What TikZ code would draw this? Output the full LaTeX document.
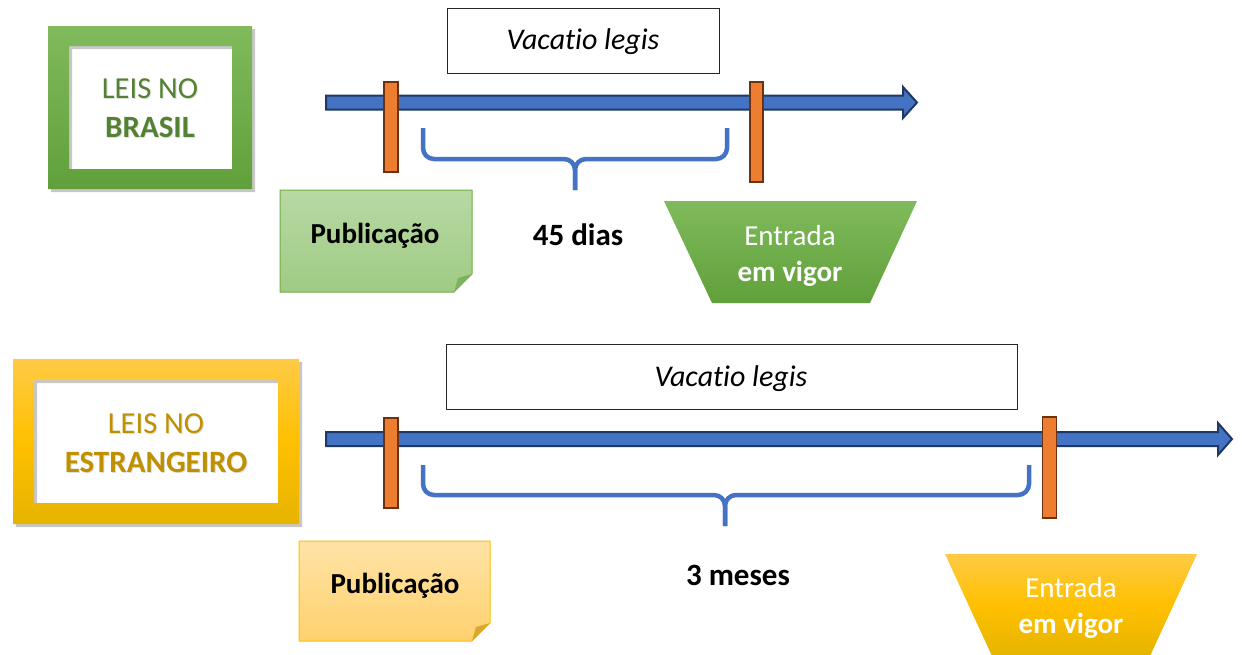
\documentclass[tikz,border=0pt]{standalone}
\usepackage{fontspec}
\setmainfont{Carlito}[Ligatures=NoCommon]
\definecolor{gTop}{HTML}{80BA5C}
\definecolor{gBot}{HTML}{60A03A}
\definecolor{gText}{HTML}{548235}
\definecolor{gNoteTop}{HTML}{B7D9A3}
\definecolor{gNoteBot}{HTML}{9FCB84}
\definecolor{gLine}{HTML}{70AD47}
\definecolor{gFold}{HTML}{7DB35C}
\definecolor{yTop}{HTML}{FFCA45}
\definecolor{yMid}{HTML}{FFC000}
\definecolor{yBot}{HTML}{E6B400}
\definecolor{yText}{HTML}{BF9000}
\definecolor{yNoteTop}{HTML}{FFE3A6}
\definecolor{yNoteBot}{HTML}{FFD16E}
\definecolor{yLine}{HTML}{FFC000}
\definecolor{yFold}{HTML}{D9A830}
\definecolor{axisBlue}{HTML}{4472C4}
\definecolor{axisLine}{HTML}{1F3864}
\definecolor{barOrange}{HTML}{ED7D31}
\definecolor{barLine}{HTML}{6B3210}
\begin{document}
\begin{tikzpicture}[x=1pt,y=-1pt,
  txt/.style={anchor=base,inner sep=0pt,font=\fontsize{30.5}{36}\selectfont},
  boldtxt/.style={anchor=base,inner sep=0pt,font=\fontsize{31}{36}\selectfont\bfseries},
  bodytxt/.style={anchor=base,inner sep=0pt,font=\fontsize{29}{35}\selectfont},
  vtxt/.style={anchor=base,inner sep=0pt,font=\fontsize{30}{35}\selectfont\itshape},
  tshadow/.style={text=black,opacity=0.13},
  axis/.style={fill=axisBlue,draw=axisLine,line width=2pt,line join=miter},
  bar/.style={fill=barOrange,draw=barLine,line width=1.8pt},
  brace/.style={draw=axisBlue,line width=4.5pt,rounded corners=11pt},
  vbox/.style={draw=black!85,line width=1pt,fill=white},
  shadowfill/.style={fill=black,opacity=0.22,even odd rule}
]
\useasboundingbox (0,0) rectangle (1242,654);

% ---------- top: LEIS NO BRASIL ----------
\fill[shadowfill] (51,29) rectangle (255,192) (72,49) rectangle (235,172);
\shade[top color=gTop,bottom color=gBot,even odd rule] (48,26) rectangle (252,189) (69,46) rectangle (232,169);
\node[txt,tshadow] (t1s) at (151,99.5) {LEIS NO};
\node[boldtxt,tshadow] (t2s) at (151,138.5) {BRASIL};
\node[txt,text=gText] (t1) at (150,98) {LEIS NO};
\node[boldtxt,text=gText] (t2) at (150,137) {BRASIL};

\node[vbox,minimum width=272pt,minimum height=65pt] (v1) at (583,40.5) {};
\node[vtxt] (v1t) at (583,49) {Vacatio legis};

\draw[axis] (326,95.5) -- (903,95.5) -- (903,87) -- (917,102.5) -- (903,118) -- (903,109.5) -- (326,109.5) -- cycle;
\coordinate (a1) at (326,102.5);
\node[bar,minimum width=14pt,minimum height=90pt,inner sep=0pt] (p1) at (391,127) {};
\node[bar,minimum width=13pt,minimum height=100pt,inner sep=0pt] (e1) at (756.5,132) {};

\coordinate (b1l) at (423,128);
\coordinate (b1m) at (575,159);
\coordinate (b1t) at (575,190);
\coordinate (b1r) at (727,128);
\draw[brace] (b1l) -- (b1l |- b1m) -- (b1m) -- (b1t);
\draw[brace] (b1t) -- (b1m) -- (b1r |- b1m) -- (b1r);

\node[boldtxt] (d1) at (578,245) {45 dias};

\shade[top color=gNoteTop,bottom color=gNoteBot] (280,190) -- (472,190) -- (472,274) -- (454,292) -- (280,292) -- cycle;
\draw[gLine,line width=1pt] (280,190) -- (472,190) -- (472,274) -- (454,292) -- (280,292) -- cycle;
\fill[gFold] (454,292) -- (458,278) -- (472,274) -- cycle;
\node[bodytxt,font=\fontsize{29}{35}\selectfont\bfseries] (n1) at (375,243) {Publicação};

\shade[top color=gTop,bottom color=gBot] (664,201) -- (917,201) -- (870,303) -- (712,303) -- cycle;
\node[bodytxt,text=white] (en1) at (790,245) {Entrada};
\node[bodytxt,text=white,font=\fontsize{29}{35}\selectfont\bfseries] (ev1) at (790,281) {em vigor};

% ---------- bottom: LEIS NO ESTRANGEIRO ----------
\fill[shadowfill] (16,362) rectangle (302,527) (37,383) rectangle (281,506);
\shade[top color=yTop,bottom color=yBot,middle color=yMid,even odd rule] (13,359) rectangle (299,524) (34,380) rectangle (278,503);
\node[txt,tshadow] (s1s) at (157,434.5) {LEIS NO};
\node[boldtxt,tshadow] (s2s) at (157,473.5) {ESTRANGEIRO};
\node[txt,text=yText] (s1) at (156,433) {LEIS NO};
\node[boldtxt,text=yText] (s2) at (156,472) {ESTRANGEIRO};

\node[vbox,minimum width=571pt,minimum height=65pt] (v2) at (731.5,377) {};
\node[vtxt] (v2t) at (731,386) {Vacatio legis};

\draw[axis] (326,432) -- (1218,432) -- (1218,423) -- (1232,439) -- (1218,455) -- (1218,446) -- (326,446) -- cycle;
\coordinate (a2) at (326,439);
\node[bar,minimum width=14pt,minimum height=90pt,inner sep=0pt] (p2) at (391,463) {};
\node[bar,minimum width=14pt,minimum height=101pt,inner sep=0pt] (e2) at (1049.5,467.5) {};

\coordinate (b2l) at (423,465);
\coordinate (b2m) at (725,495);
\coordinate (b2t) at (725,526);
\coordinate (b2r) at (1029,465);
\draw[brace] (b2l) -- (b2l |- b2m) -- (b2m) -- (b2t);
\draw[brace] (b2t) -- (b2m) -- (b2r |- b2m) -- (b2r);

\node[boldtxt] (d2) at (738,585) {3 meses};

\shade[top color=yNoteTop,bottom color=yNoteBot] (299,541) -- (490,541) -- (490,623) -- (472,641) -- (299,641) -- cycle;
\draw[yLine,line width=1pt] (299,541) -- (490,541) -- (490,623) -- (472,641) -- (299,641) -- cycle;
\fill[yFold] (472,641) -- (476,627) -- (490,623) -- cycle;
\node[bodytxt,font=\fontsize{29}{35}\selectfont\bfseries] (n2) at (395,593) {Publicação};

\shade[top color=yTop,bottom color=yBot,middle color=yMid] (945,554) -- (1197,554) -- (1150,656) -- (992,656) -- cycle;
\node[bodytxt,text=white] (en2) at (1071,597) {Entrada};
\node[bodytxt,text=white,font=\fontsize{29}{35}\selectfont\bfseries] (ev2) at (1071,633) {em vigor};
\end{tikzpicture}
\end{document}
